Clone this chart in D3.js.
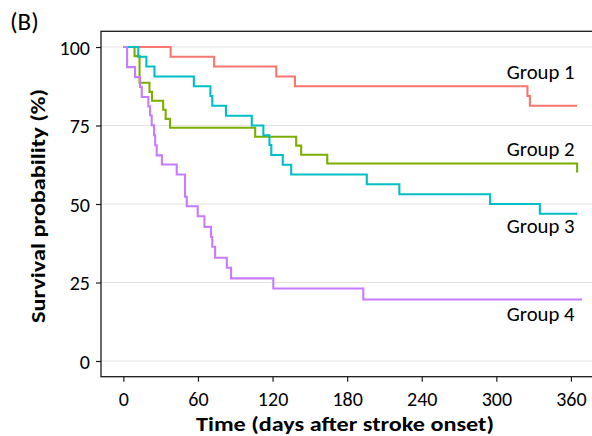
<!DOCTYPE html>
<html>
<head>
<meta charset="utf-8">
<script src="https://cdn.jsdelivr.net/npm/d3@7"></script>
<style>
  html, body { margin: 0; padding: 0; background: #fff; }
  svg { display: block; }
  text { font-family: Carlito, Lato, "Open Sans", sans-serif; fill: #000; }
</style>
</head>
<body>
<svg id="chart" width="592" height="436"></svg>
<script>
// ---- data ----
const groups = ["Group 1", "Group 2", "Group 3", "Group 4"];
const colors = ["#F8766D", "#7CAE00", "#00BFC4", "#C77CFF"];

const g1Time = [0, 38, 73, 123, 138, 325, 327, 365];
const g1Surv = [100, 96.9, 93.8, 90.6, 87.5, 84.4, 81.3, 81.3];

const g2Time = [0, 9, 13, 21, 23, 32, 34, 37.5, 106, 139, 143, 164, 365];
const g2Surv = [100, 97.1, 88.6, 85.7, 82.9, 80, 77.1, 74.3, 71.4, 68.6, 65.7, 62.9, 60];

const g3Time = [0, 12, 18.5, 25, 56.7, 70, 71.5, 82.5, 103.3, 112.6, 117.5, 119, 128.2, 135, 195.8, 222, 295, 335, 365];
const g3Surv = [100, 96.9, 93.8, 90.6, 87.5, 84.4, 81.3, 78.1, 75, 71.9, 68.8, 65.6, 62.5, 59.4, 56.3, 53.1, 50, 46.9, 46.9];

const g4Time = [0, 3, 9.4, 13.4, 14.8, 20.1, 21.5, 22.8, 24.7, 25.6, 26.8, 31, 42.9, 49.6, 51, 59.8, 65.2, 70.5, 71.5, 73.8, 83.2, 86.6, 120.6, 193, 369];
const g4Surv = [100, 93.6, 90.4, 87.3, 84.1, 81.1, 78.2, 75.1, 71.9, 68.7, 65.5, 62.6, 59.4, 52.3, 49.3, 46.1, 42.7, 39.5, 36.4, 32.9, 29.7, 26.3, 23.1, 19.6, 19.6];

const labelDay = [363, 363, 363, 363];
const labelSurv = [92, 67.6, 43, 15];

const xTicks = [0, 60, 120, 180, 240, 300, 360];
const yTicks = [0, 25, 50, 75, 100];

const xTitle = "Time (days after stroke onset)";
const yTitle = "Survival probability (%)";
const panelTag = "(B)";

// ---- build ----
const times = [g1Time, g2Time, g3Time, g4Time];
const survs = [g1Surv, g2Surv, g3Surv, g4Surv];
const series = groups.map((g, i) => ({
  name: g, color: colors[i],
  pts: times[i].map((t, j) => ({ t, s: survs[i][j] }))
}));

const svg = d3.select("#chart");
const x = d3.scaleLinear().domain([-18, 378]).range([101, 593.3]);
const y = d3.scaleLinear().domain([-5, 105]).range([376.7, 31.3]);

// gridlines
svg.append("g").selectAll("line").data(yTicks).join("line")
  .attr("x1", x(-18)).attr("x2", x(378))
  .attr("y1", d => y(d)).attr("y2", d => y(d))
  .attr("stroke", "#e3e3e3").attr("stroke-width", 1.1);

// curves
const line = d3.line().x(d => x(d.t)).y(d => y(d.s)).curve(d3.curveStepAfter);
svg.append("g").selectAll("path").data(series).join("path")
  .attr("d", d => line(d.pts))
  .attr("fill", "none")
  .attr("stroke", d => d.color)
  .attr("stroke-width", 2.1)
  .attr("stroke-linejoin", "miter");

// panel border
svg.append("rect")
  .attr("x", x(-18)).attr("y", y(105))
  .attr("width", x(378) - x(-18)).attr("height", y(-5) - y(105))
  .attr("fill", "none").attr("stroke", "#1a1a1a").attr("stroke-width", 1.3);

// axes
const fs = 20;
const gx = svg.append("g").attr("transform", `translate(0,${y(-5)})`)
  .call(d3.axisBottom(x).tickValues(xTicks).tickSize(5).tickSizeOuter(0));
gx.select(".domain").remove();
gx.selectAll(".tick line").attr("stroke", "#1a1a1a").attr("stroke-width", 1.2);
gx.selectAll(".tick text").attr("y", 29.5).attr("dy", 0)
  .style("font-size", fs + "px").attr("fill", "#000");

const gy = svg.append("g").attr("transform", `translate(${x(-18)},0)`)
  .call(d3.axisLeft(y).tickValues(yTicks).tickSize(5).tickPadding(6).tickSizeOuter(0));
gy.select(".domain").remove();
gy.selectAll(".tick line").attr("stroke", "#1a1a1a").attr("stroke-width", 1.2);
gy.selectAll(".tick text").attr("dy", "0.35em")
  .style("font-size", fs + "px").attr("fill", "#000");

// group labels
svg.append("g").selectAll("text").data(groups).join("text")
  .attr("x", (d, i) => x(labelDay[i]))
  .attr("y", (d, i) => y(labelSurv[i]))
  .attr("dy", "0.35em")
  .attr("text-anchor", "end")
  .style("font-size", "20.5px")
  .attr("textLength", 68)
  .attr("lengthAdjust", "spacingAndGlyphs")
  .text(d => d);

// titles
svg.append("text").attr("x", 345).attr("y", 430.5)
  .attr("text-anchor", "middle").style("font-size", "21px").style("font-weight", "bold")
  .attr("textLength", 298).attr("lengthAdjust", "spacingAndGlyphs")
  .text(xTitle);
svg.append("text").attr("transform", "translate(45,206) rotate(-90)")
  .attr("text-anchor", "middle").style("font-size", "21px").style("font-weight", "bold")
  .attr("textLength", 234).attr("lengthAdjust", "spacingAndGlyphs")
  .text(yTitle);
svg.append("text").attr("x", 10).attr("y", 30)
  .style("font-size", "25px").text(panelTag);
</script>
</body>
</html>
